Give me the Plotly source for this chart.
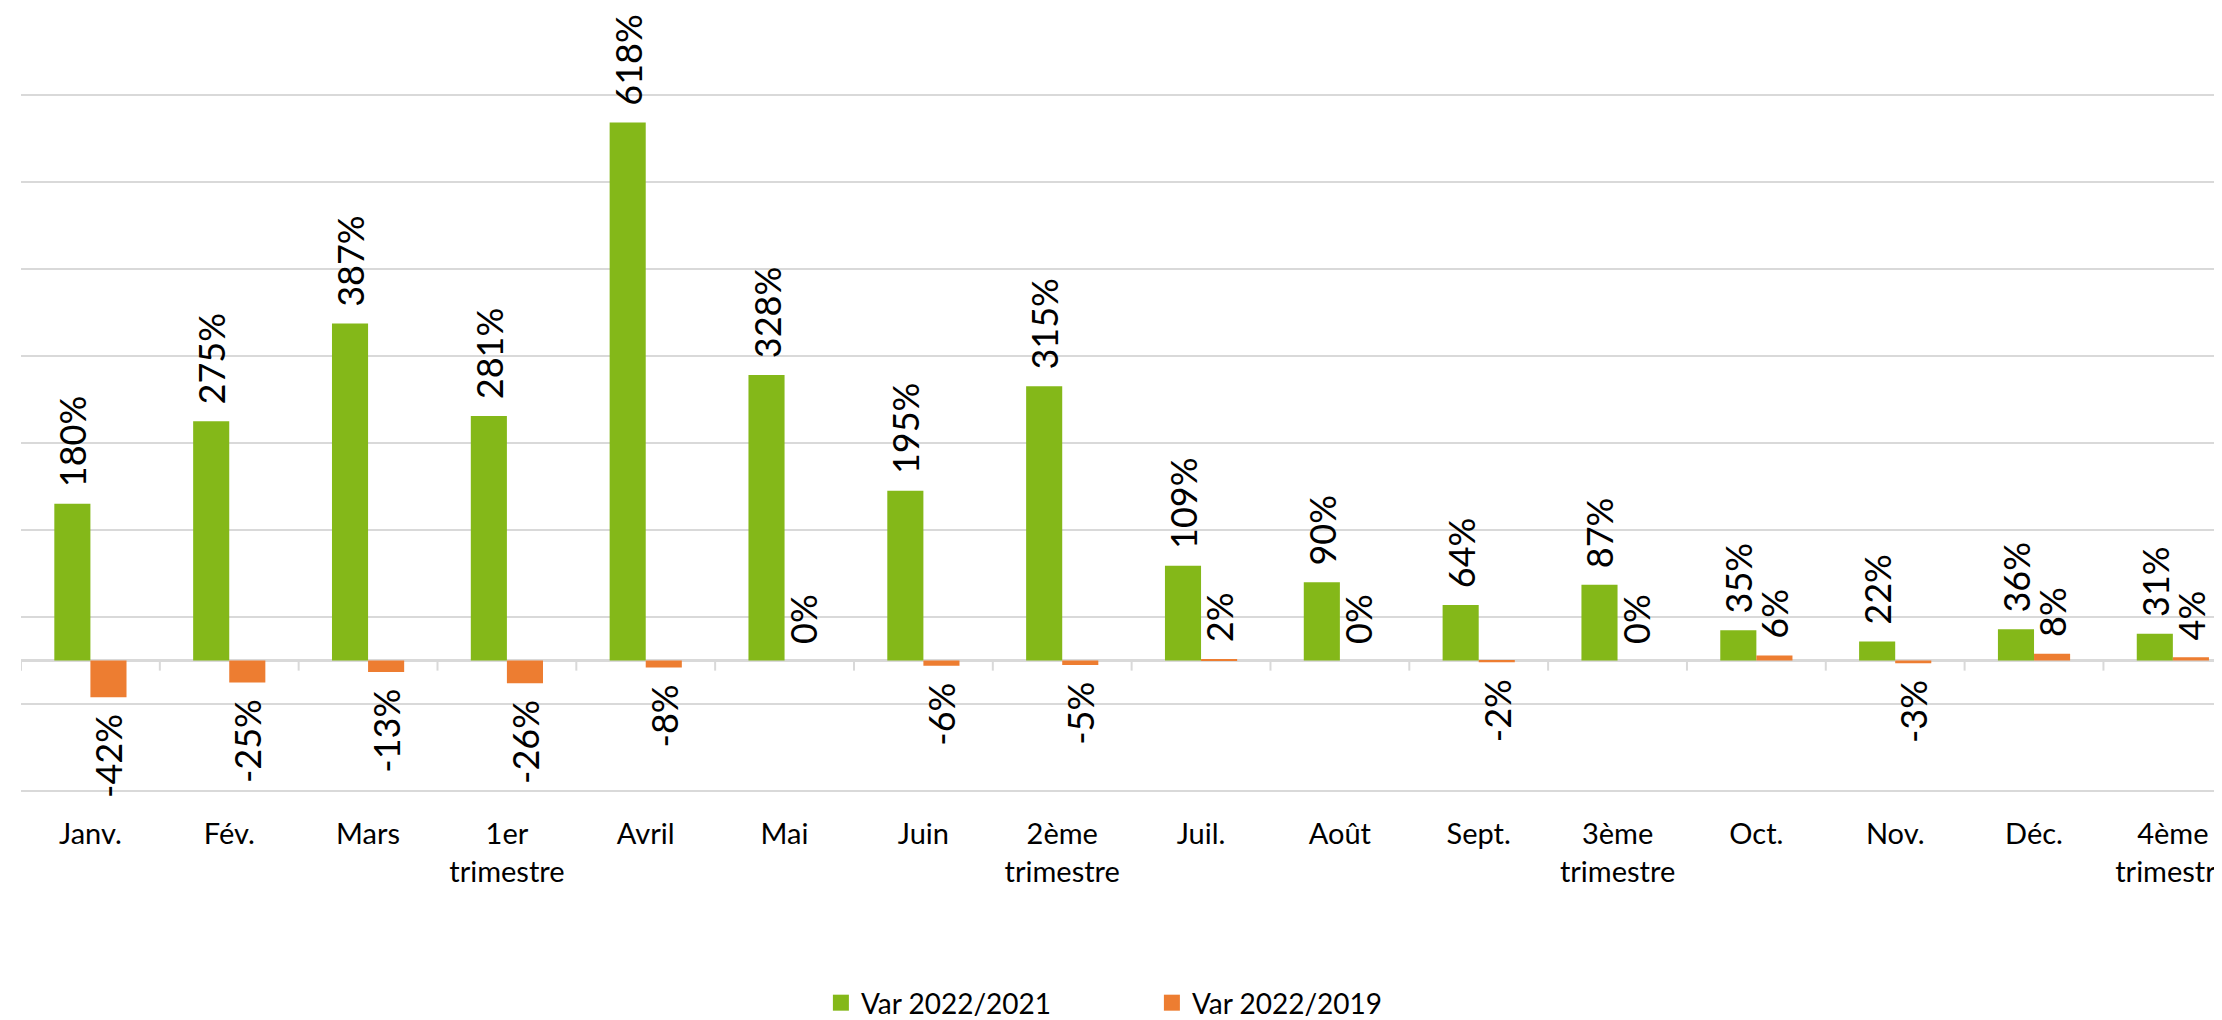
import plotly.graph_objects as go

# categories (months and quarters)
categories = ["Janv.", "Fév.", "Mars", "1er<br>trimestre", "Avril", "Mai", "Juin",
              "2ème<br>trimestre", "Juil.", "Août", "Sept.", "3ème<br>trimestre",
              "Oct.", "Nov.", "Déc.", "4ème<br>trimestre"]

var_2021 = [180, 275, 387, 281, 618, 328, 195, 315, 109, 90, 64, 87, 35, 22, 36, 31]
var_2019 = [-42, -25, -13, -26, -8, 0, -6, -5, 2, 0, -2, 0, 6, -3, 8, 4]

series_names = ["Var 2022/2021", "Var 2022/2019"]
GREEN = "#84B819"
ORANGE = "#ED7D31"
GRID = "#d9d9d9"

GAP = "\u00a0\u2009"


def labels(values):
    # plain hyphen for negatives, spacing on the side touching the bar
    return [GAP + f"{v}%" if v >= 0 else f"{v}%" + GAP for v in values]


fig = go.Figure()

for name, values, color in [(series_names[0], var_2021, GREEN),
                            (series_names[1], var_2019, ORANGE)]:
    fig.add_trace(go.Bar(
        x=categories, y=values, name=name,
        marker=dict(color=color, line=dict(width=0)),
        text=labels(values), texttemplate="%{text}",
        textposition="outside", textangle=-90,
        constraintext="none", cliponaxis=False,
        textfont=dict(family="Lato", size=36, color="#000000"),
        showlegend=False, hoverinfo="skip",
    ))
    # legend entry with a bigger square
    fig.add_trace(go.Scatter(
        x=[None], y=[None], mode="markers", name=name,
        marker=dict(symbol="square", size=16, color=color),
        showlegend=True, hoverinfo="skip",
    ))

# small tick marks on the zero line between categories
for i in range(len(categories) + 1):
    fig.add_shape(type="line", xref="x", yref="y",
                  x0=i - 0.5, x1=i - 0.5, y0=0, y1=-11.5,
                  line=dict(color=GRID, width=2), layer="below")

fig.update_layout(
    width=2222, height=1020,
    margin=dict(l=13, r=0, t=43, b=227, pad=0),
    paper_bgcolor="white", plot_bgcolor="white",
    barmode="group", bargap=0.48, bargroupgap=0,
    font=dict(family="Lato", size=29, color="#000000"),
    legend=dict(orientation="h", x=0.3626, xanchor="left",
                y=-0.283, yanchor="middle",
                font=dict(family="Lato", size=28, color="#000000"),
                entrywidth=286, bgcolor="rgba(0,0,0,0)"),
    xaxis=dict(type="category", categoryorder="array", categoryarray=categories,
               range=[-0.5, 15.39], showgrid=False, showline=False,
               ticks="", tickangle=0, ticklabelstandoff=21,
               tickfont=dict(family="Lato", size=29, color="#000000"),
               fixedrange=True),
    yaxis=dict(range=[-152, 700], tickmode="linear", tick0=50, dtick=100,
               showticklabels=False, showgrid=True, gridcolor=GRID, gridwidth=2,
               zeroline=True, zerolinecolor=GRID, zerolinewidth=2.5,
               fixedrange=True),
)

fig.write_html("out.html")
